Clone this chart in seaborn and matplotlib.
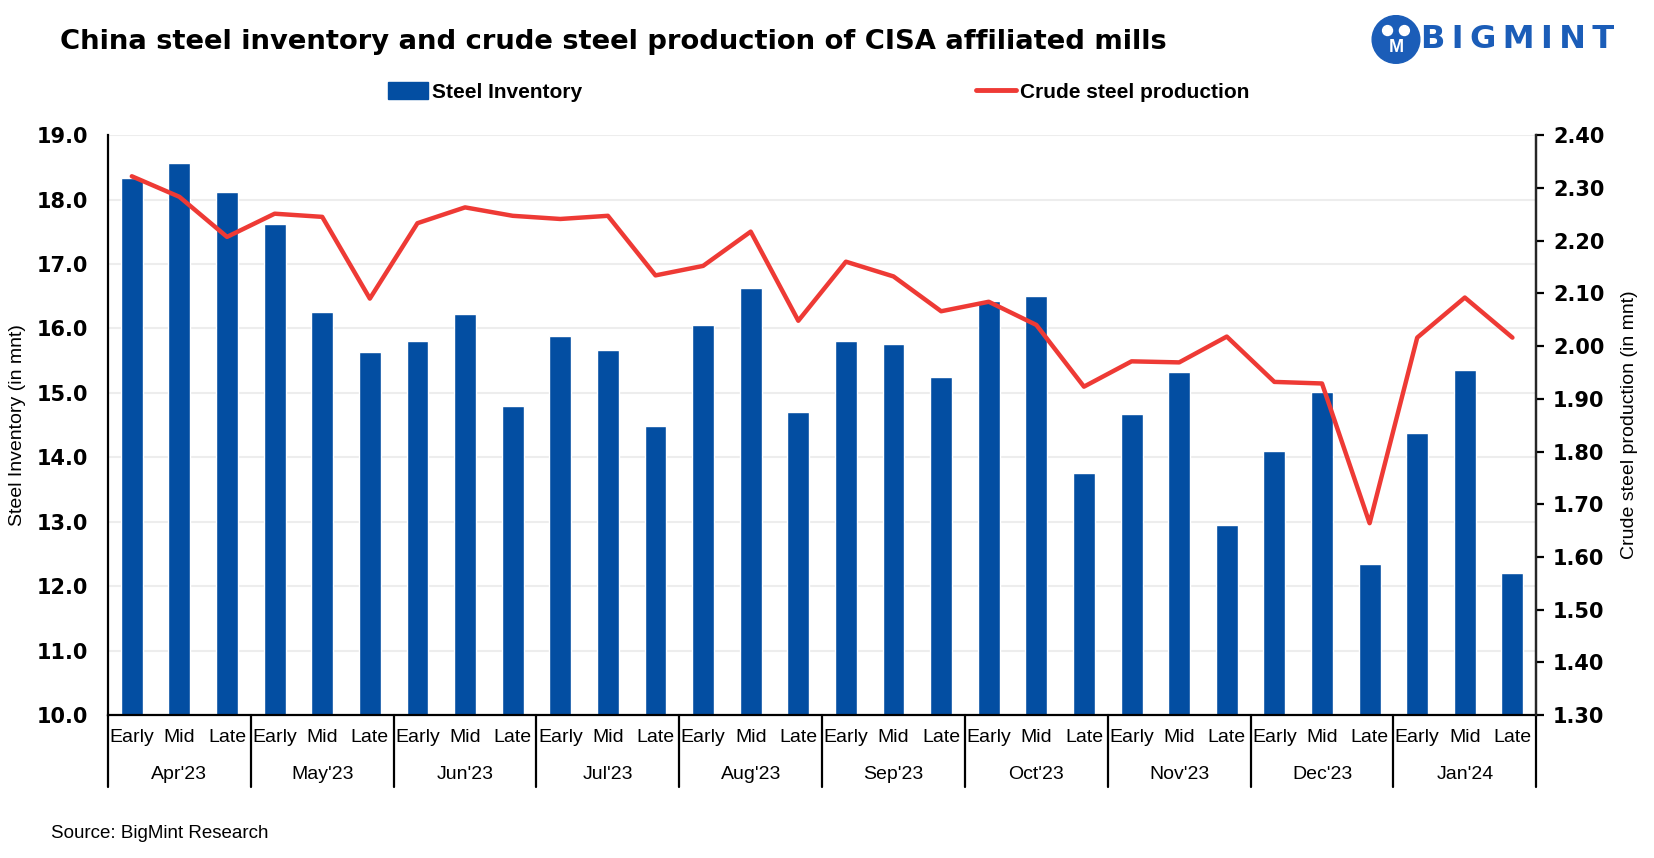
"""
China steel inventory vs crude steel production of CISA affiliated mills,
ten-day periods Apr'23 - Jan'24.
"""
import matplotlib
matplotlib.use("Agg")
import matplotlib.pyplot as plt
import matplotlib.transforms as mtransforms
from matplotlib.patches import Patch, Circle
from matplotlib.lines import Line2D
import numpy as np
import seaborn as sns

sns.set_style("white")
plt.rcParams['font.family'] = ['Liberation Sans', 'DejaVu Sans']
plt.rcParams.update({'text.color': 'black', 'axes.labelcolor': 'black',
                     'xtick.color': 'black', 'ytick.color': 'black'})

months = ["Apr'23", "May'23", "Jun'23", "Jul'23", "Aug'23",
          "Sep'23", "Oct'23", "Nov'23", "Dec'23", "Jan'24"]
periods = ["Early", "Mid", "Late"]

# steel inventory, mnt (left axis)
inventory = [18.33, 18.56, 18.11,
             17.62, 16.25, 15.63,
             15.81, 16.22, 14.79,
             15.89, 15.66, 14.48,
             16.06, 16.63, 14.71,
             15.81, 15.76, 15.25,
             16.42, 16.50, 13.75,
             14.67, 15.32, 12.95,
             14.10, 15.01, 12.35,
             14.38, 15.35, 12.20]

# crude steel production, mnt (right axis)
production = [2.322, 2.283, 2.207,
              2.251, 2.245, 2.090,
              2.233, 2.263, 2.247,
              2.241, 2.247, 2.134,
              2.152, 2.217, 2.048,
              2.160, 2.132, 2.066,
              2.084, 2.040, 1.923,
              1.971, 1.969, 2.018,
              1.932, 1.929, 1.664,
              2.016, 2.092, 2.016]

BLUE = "#034EA2"
RED = "#EE3A35"

n = len(inventory)
pos = np.arange(n)

fig = plt.figure(figsize=(16.54, 8.58), dpi=100)
ax = fig.add_axes([0.0653, 0.1665, 0.8635, 0.676])

sns.barplot(x=pos, y=inventory, color=BLUE, width=0.46, saturation=1, ax=ax)
ax.set_ylim(10, 19)
ax.set_xlim(-0.5, n - 0.5)
ax.set_yticks(np.arange(10, 19.5, 1))
ax.set_yticklabels([f"{v:.1f}" for v in np.arange(10, 19.5, 1)],
                   fontsize=15, fontweight='bold', family='DejaVu Sans')
ax.tick_params(axis='y', length=0, pad=14)
ax.yaxis.grid(True, color='#EDEDED', linewidth=1.5)
ax.set_axisbelow(True)
ax.set_ylabel("Steel Inventory (in mnt)", fontsize=14, labelpad=8)

ax.set_xticks(pos)
ax.set_xticklabels(periods * len(months), fontsize=14)
ax.tick_params(axis='x', length=0, pad=10)
ax.set_xlabel("")

ax.spines['top'].set_visible(False)
for side in ['left', 'bottom', 'right']:
    ax.spines[side].set_color('black')
    ax.spines[side].set_linewidth(1.6)

ax2 = ax.twinx()
sns.lineplot(x=pos, y=production, color=RED, linewidth=3.2, ax=ax2)
ax2.set_ylim(1.30, 2.40)
ax2.set_yticks(np.arange(1.30, 2.41, 0.10))
ax2.set_yticklabels([f"{v:.2f}" for v in np.arange(1.30, 2.41, 0.10)],
                    fontsize=15, fontweight='bold', family='DejaVu Sans')
ax2.tick_params(axis='y', length=6, width=1.6, direction='out', pad=6)
ax2.set_ylabel("Crude steel production (in mnt)", fontsize=14, labelpad=12)
ax2.spines['top'].set_visible(False)
ax2.spines['right'].set_linewidth(1.6)
ax2.spines['left'].set_visible(False)
ax2.spines['bottom'].set_visible(False)
ax2.grid(False)

# month group labels and separators under the axis
trans = mtransforms.blended_transform_factory(ax.transData, ax.transAxes)
for k, m in enumerate(months):
    ax.text(3 * k + 1, -0.103, m, transform=trans, ha='center', va='center',
            fontsize=14)
for k in range(len(months) + 1):
    ax.plot([3 * k - 0.5, 3 * k - 0.5], [0, -0.124], transform=trans,
            color='black', linewidth=1.6, clip_on=False)

fig.text(0.036, 0.951, "China steel inventory and crude steel production of CISA affiliated mills",
         fontsize=19.7, fontweight='bold', va='center', ha='left', family='DejaVu Sans')

handles = [Patch(facecolor=BLUE, edgecolor=BLUE),
           Line2D([0], [0], color=RED, linewidth=3.5)]
fig.legend(handles, ["Steel Inventory", "Crude steel production"],
           loc='center', bbox_to_anchor=(0.495, 0.893), ncol=2, frameon=False,
           prop={'size': 15, 'weight': 'bold'}, handlelength=1.9, handleheight=0.9,
           handletextpad=0.2, columnspacing=18.9)

fig.text(0.031, 0.029, "Source: BigMint Research", fontsize=13.5, va='center')

# logo
logo = fig.add_axes([0.829, 0.925, 0.03, 0.058])
logo.set_xlim(0, 1)
logo.set_ylim(0, 1)
logo.set_aspect('equal')
logo.axis('off')
logo.add_patch(Circle((0.5, 0.5), 0.48, color='#1B5DB8'))
logo.add_patch(Circle((0.33, 0.68), 0.1, color='white'))
logo.add_patch(Circle((0.67, 0.68), 0.1, color='white'))
logo.text(0.5, 0.33, "M", color='white', fontsize=13, fontweight='bold',
          ha='center', va='center')
fig.text(0.859, 0.954, "B\u2009I\u2009G\u2009M\u2009I\u2009N\u2009T", color='#1B5DB8',
         fontsize=23, fontweight='bold', va='center', ha='left', family='DejaVu Sans')

fig.savefig("out.png", dpi=100)
